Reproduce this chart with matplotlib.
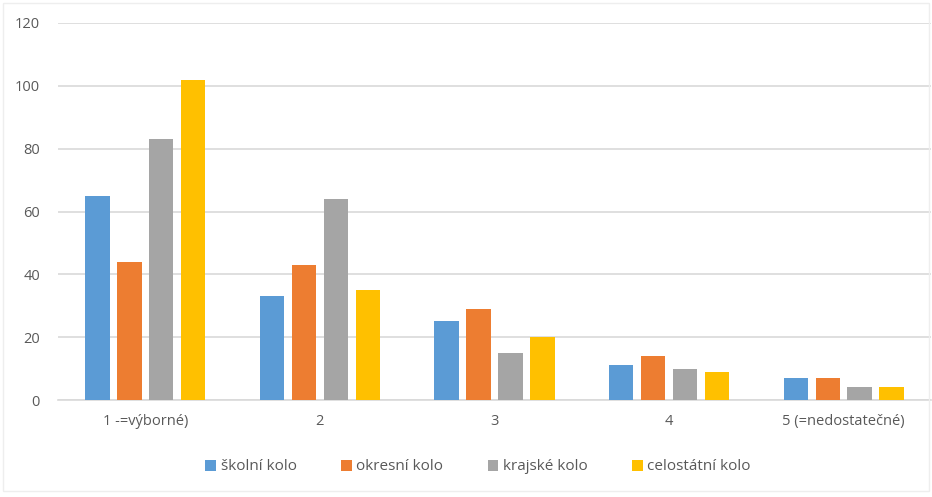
import matplotlib
matplotlib.use("Agg")
import matplotlib.pyplot as plt
import numpy as np
from matplotlib.patches import Rectangle

categories = ["1 -=výborné)", "2", "3", "4", "5 (=nedostatečné)"]
series_names = ["školní kolo", "okresní kolo", "krajské kolo", "celostátní kolo"]
skolni = [65, 33, 25, 11, 7]
okresni = [44, 43, 29, 14, 7]
krajske = [83, 64, 15, 10, 4]
celostatni = [102, 35, 20, 9, 4]
colors = ["#5B9BD5", "#ED7D31", "#A5A5A5", "#FFC000"]
yticks = [0, 20, 40, 60, 80, 100, 120]

plt.rcParams['font.family'] = ['Open Sans', 'DejaVu Sans']
text_color = "#595959"

fig = plt.figure(figsize=(9.32, 4.97), dpi=100)
ax = fig.add_axes([58 / 932, 1 - 400 / 497, 873 / 932, 377 / 497])

x = np.arange(len(categories))
width = 0.14
step = 0.183
for i, (vals, name, c) in enumerate(zip([skolni, okresni, krajske, celostatni], series_names, colors)):
    ax.bar(x + (i - 1.5) * step, vals, width=width, color=c, label=name, zorder=3)

ax.set_xlim(-0.5, len(categories) - 0.5)
ax.set_ylim(0, 120)
ax.set_yticks(yticks)
ax.set_yticklabels([str(t) for t in yticks], color=text_color, fontsize=10.5)
ax.set_xticks(x)
ax.set_xticklabels(categories, color=text_color, fontsize=10.5)
ax.tick_params(axis='both', length=0)
ax.tick_params(axis='y', pad=13)
ax.tick_params(axis='x', pad=10)
ax.grid(axis='y', color="#D9D9D9", linewidth=1.2, zorder=0)
for s in ["top", "right", "left"]:
    ax.spines[s].set_visible(False)
ax.spines["bottom"].set_color("#D9D9D9")
ax.spines["bottom"].set_linewidth(1.2)

leg = fig.legend(loc="center", bbox_to_anchor=(478 / 932, 1 - 467 / 497), ncol=4,
                 frameon=False, fontsize=11, handlelength=0.7, handleheight=0.7,
                 handletextpad=0.3, columnspacing=2.9)
for t in leg.get_texts():
    t.set_color(text_color)

fig.patches.append(Rectangle((3 / 932, 6 / 497), 926 / 932, 488 / 497, transform=fig.transFigure,
                             fill=False, edgecolor="#EEEEEE", linewidth=1))

fig.savefig("out.png", dpi=100)
